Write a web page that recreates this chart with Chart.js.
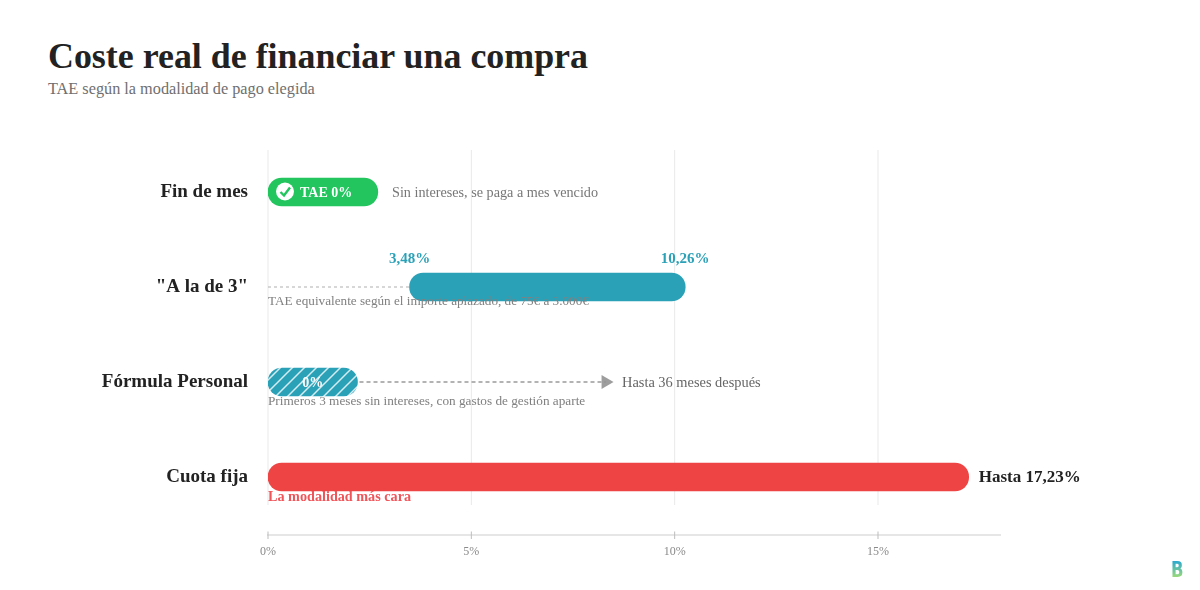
<!DOCTYPE html>
<html lang="es">
<head>
<meta charset="utf-8">
<title>Coste real de financiar una compra</title>
<script src="https://cdn.jsdelivr.net/npm/chart.js@4"></script>
<style>
  html, body { margin: 0; padding: 0; background: #fff; }
  body { position: relative; width: 1200px; height: 590px; overflow: hidden; font-family: "Liberation Serif", serif; }
  h1 { position: absolute; left: 48px; top: 36px; margin: 0; font-size: 35.9px; line-height: 40px; font-weight: 700; color: #222; white-space: nowrap; }
  p { position: absolute; left: 48px; top: 79px; margin: 0; font-size: 16.25px; line-height: 20px; color: #6f6f6f; white-space: nowrap; }
  canvas { position: absolute; left: 0; top: 0; }
</style>
</head>
<body>
<h1>Coste real de financiar una compra</h1>
<p>TAE según la modalidad de pago elegida</p>
<canvas id="chart" width="1200" height="590"></canvas>
<script>
// Data
const categories = ["Fin de mes", '"A la de 3"', "Fórmula Personal", "Cuota fija"];
const barStart = [0, 3.48, 0, 0];
const barEnd = [2.7, 10.26, 2.2, 17.23];
const barColors = ["#22C55E", "#2BA1B8", "#2BA1B8", "#EF4444"];
const xTicks = [0, 5, 10, 15];
const xMax = 18;
const leaderLine = [0, 3.48];   // dotted line on "A la de 3"
const arrowLine = [2.25, 8.3];  // dashed arrow on Fórmula Personal

const SERIF = '"Liberation Serif", serif';

// hatch for the Fórmula Personal bar
function makeHatch() {
    const c = document.createElement("canvas");
    c.width = 12;
    c.height = 12;
    const g = c.getContext("2d");
    g.fillStyle = "#2BA1B8";
    g.fillRect(0, 0, 12, 12);
    g.strokeStyle = "rgba(255,255,255,0.8)";
    g.lineWidth = 1.5;
    g.beginPath();
    g.moveTo(-3, 3); g.lineTo(3, -3);
    g.moveTo(-3, 15); g.lineTo(15, -3);
    g.moveTo(9, 15); g.lineTo(15, 9);
    g.stroke();
    return g.createPattern(c, "repeat");
}
const hatch = makeHatch();

// grid stops above the axis, so it is drawn here from the x scale
const gridPlugin = {
    id: "gridPlugin",
    beforeDatasetsDraw(chart) {
        const { ctx, scales: { x } } = chart;
        ctx.save();
        xTicks.forEach((v) => {
            const px = x.getPixelForValue(v);
            ctx.strokeStyle = "#E9E9E9";
            ctx.lineWidth = 1;
            ctx.beginPath();
            ctx.moveTo(px, 150);
            ctx.lineTo(px, 505);
            ctx.stroke();
            ctx.strokeStyle = "#BDBDBD";
            ctx.beginPath();
            ctx.moveTo(px, 531.5);
            ctx.lineTo(px, 539);
            ctx.stroke();
        });
        ctx.restore();
    },
};

function note(chart, value, row, dx, dy, text, font, color, align) {
    const { ctx, scales: { x, y } } = chart;
    ctx.font = font;
    ctx.fillStyle = color;
    ctx.textAlign = align || "left";
    ctx.textBaseline = "middle";
    ctx.fillText(text, x.getPixelForValue(value) + dx, y.getPixelForValue(row) + dy);
}

const notesPlugin = {
    id: "notesPlugin",
    afterDatasetsDraw(chart) {
        const { ctx, scales: { x, y } } = chart;
        ctx.save();

        // check badge
        const cx = x.getPixelForValue(0) + 17;
        const cy = y.getPixelForValue(0) - 0.5;
        ctx.fillStyle = "#fff";
        ctx.beginPath();
        ctx.arc(cx, cy, 9, 0, Math.PI * 2);
        ctx.fill();
        ctx.strokeStyle = "#22C55E";
        ctx.lineWidth = 2.4;
        ctx.beginPath();
        ctx.moveTo(cx - 4.5, cy + 0.5);
        ctx.lineTo(cx - 1, cy + 4);
        ctx.lineTo(cx + 5, cy - 4);
        ctx.stroke();

        note(chart, 0, 0, 32, 1.5, "TAE 0%", `bold 14px ${SERIF}`, "#fff");
        note(chart, 0, 0, 124, 1.5, "Sin intereses, se paga a mes vencido", `14.2px ${SERIF}`, "#777");

        note(chart, 3.48, 1, 0, -28, "3,48%", `bold 15px ${SERIF}`, "#2BA1B8", "center");
        note(chart, 10.26, 1, 0, -28, "10,26%", `bold 15px ${SERIF}`, "#2BA1B8", "center");
        note(chart, 0, 1, 0, 15, "TAE equivalente según el importe aplazado, de 75€ a 3.000€", `13.2px ${SERIF}`, "#808080");

        note(chart, 1.1, 2, 0, 1, "0%", `bold 14px ${SERIF}`, "#fff", "center");
        note(chart, 0, 2, 354, 1.5, "Hasta 36 meses después", `14.4px ${SERIF}`, "#666");
        note(chart, 0, 2, 0, 20, "Primeros 3 meses sin intereses, con gastos de gestión aparte", `13.25px ${SERIF}`, "#808080");

        note(chart, 17.23, 3, 10, 1, "Hasta 17,23%", `bold 17px ${SERIF}`, "#222");
        note(chart, 0, 3, 0, 20, "La modalidad más cara", `bold 14.2px ${SERIF}`, "#F0555A");

        // logo
        ctx.translate(1171, 577);
        ctx.scale(0.78, 1);
        const grad = ctx.createLinearGradient(0, -16, 0, 0);
        grad.addColorStop(0, "#2BA8D0");
        grad.addColorStop(1, "#9AD97A");
        ctx.font = 'bold 21px "DejaVu Sans", sans-serif';
        ctx.fillStyle = grad;
        ctx.textAlign = "left";
        ctx.textBaseline = "alphabetic";
        ctx.fillText("B", 0, 0);

        ctx.restore();
    },
};

const ctx = document.getElementById("chart").getContext("2d");
const chart = new Chart(ctx, {
    type: "bar",
    data: {
        datasets: [
            {
                type: "line",
                data: leaderLine.map((v) => ({ x: v, y: 1 })),
                borderColor: "#BDBDBD",
                borderWidth: 1.2,
                borderDash: [3, 3],
                pointRadius: 0,
                order: 2,
            },
            {
                type: "line",
                data: arrowLine.map((v) => ({ x: v, y: 2 })),
                borderColor: "#9A9A9A",
                borderWidth: 1.6,
                borderDash: [4, 3],
                pointStyle: "triangle",
                pointRotation: 90,
                pointRadius: [0, 8],
                pointBackgroundColor: "rgba(140,140,140,0.85)",
                pointBorderWidth: 0,
                order: 2,
            },
            {
                data: categories.map((_, i) => ({ x: [barStart[i], barEnd[i]], y: i })),
                backgroundColor: [barColors[0], barColors[1], hatch, barColors[3]],
                borderRadius: 14,
                borderSkipped: false,
                barThickness: 28,
                order: 1,
            },
        ],
    },
    plugins: [gridPlugin, notesPlugin],
    options: {
        indexAxis: "y",
        responsive: false,
        animation: false,
        layout: { padding: { top: 150, right: 200 } },
        plugins: { legend: { display: false }, tooltip: { enabled: false } },
        scales: {
            x: {
                type: "linear",
                min: 0,
                max: xMax,
                afterFit: (s) => { s.height = 55; },
                afterBuildTicks: (s) => { s.ticks = xTicks.map((v) => ({ value: v })); },
                grid: { display: false },
                border: { color: "#E6E6E6", width: 2 },
                ticks: {
                    padding: 2,
                    color: "#8A8A8A",
                    font: { family: SERIF, size: 12 },
                    maxRotation: 0,
                    callback: (v) => `${v}%`,
                },
            },
            y: {
                type: "linear",
                reverse: true,
                offset: false,
                min: -42 / 95,
                max: 343 / 95,
                afterFit: (s) => { s.width = 268; },
                afterBuildTicks: (s) => { s.ticks = categories.map((_, i) => ({ value: i })); },
                grid: { display: false },
                border: { display: false },
                ticks: {
                    padding: 12,
                    color: "#222",
                    font: { family: SERIF, size: 19, weight: "bold" },
                    callback: (v) => categories[v],
                },
            },
        },
    },
});
</script>
</body>
</html>
